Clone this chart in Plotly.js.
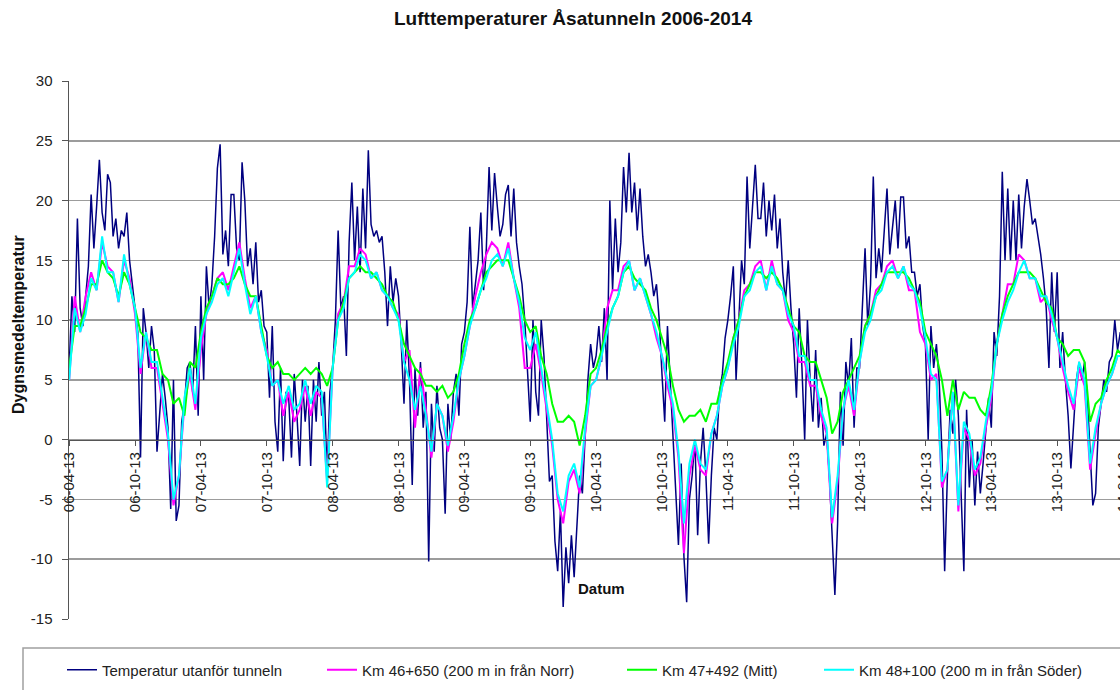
<!DOCTYPE html>
<html>
<head>
<meta charset="utf-8">
<script src="https://cdn.plot.ly/plotly-3.0.1.min.js"></script>
<style>
html, body { margin: 0; padding: 0; overflow: hidden; background: #fff; }
#chart { width: 1180px; height: 690px; }
</style>
</head>
<body>
<div id="chart"></div>
<script>
// ---------- DATA ----------
const seriesNames = [
  "Temperatur utanför tunneln",
  "Km 46+650 (200 m in från Norr)",
  "Km 47+492 (Mitt)",
  "Km 48+100 (200 m in från Söder)"
];
const firstDate = "2006-04-13";
// outdoor temperature: 4 readings per month, starting 2006-04-13
const outdoor = [
  6,12,9,18.5, 11,9.5,12,14.5, 20.5,16,19.5,23.4, 19,17.5,22.2,21.5, 17,18.5,16,17.5, 17,19,15,13,
  11.5,9,-1.5,11, 9,6,9.5,7.5, -1,2.5,5.5,3.5, 1,-5.8,5,-6.8, -5.5,1.5,3,6, 6.5,4,9.5,2,
  12,5,14.5,11, 13,17,22.7,24.7, 15.5,17.5,14.5,20.5, 20.5,16,15,23.2, 20,14.5,16,13, 16.5,11.5,12.5,9.5,
  9,3.5,9.5,1.5, -1,6,-1.8,4, 3.5,-1.5,5.5,2, -2.2,5,1.5,4.5, -2.2,5,1.5,6.5, 2,4,-3,4,
  6,10,17.5,11, 12,7,16.5,21.5, 15,19.5,14,21, 16,24.2,18,17, 17.5,16.5,17,14, 9.5,14.5,11.5,13.5,
  12,8,3,10, 5,-3.8,6,2, 6.5,1,4,-10.2, 3,-1,4.5,1, 0,-6.2,3,0, 4,5.5,2,8,
  9,11.5,17.8,11, 13,15,19,12.5, 16,22.8,17.5,22.3, 19.5,17,18,20.5, 21.3,17,21,16.5, 14.5,13,10,6,
  1.5,10,4,2, 10,7,2,-3.5, -3,-8.5,-11,-6, -14,-9,-12,-8, -11.5,-7,-3,-4.5, 0,5,8,6,
  7,9.5,6.5,11, 5,20,12.5,18.5, 14,16.5,22.8,19, 24,19,21.5,17.5, 21,17,14.5,15.5, 14,12,13,10,
  5.5,1.5,9.5,5, 1,-4.5,-8.8,-2, -9.8,-13.6,-5,-3, 0,-8,-2,1, -3,-8.7,-3,1, 0,4,5.5,8.5,
  10,12,14.5,5, 10,15,13,22, 16,19.5,23,18.5, 18.5,21.5,17,20, 17.5,20.5,16,18.5, 14,11.5,15,11,
  8,3.5,11,6, 0,10,5,1.5, 7.5,1,3.5,-0.5, 0.5,-3,-8.5,-13, -7,4,-0.5,6.5, 4.5,8.5,1,6,
  6,10.5,16,9.5, 13,22,13.5,16, 14,17.5,21,15.5, 18,20,16,20.3, 20.3,16,17,14, 14,12,13,9.5,
  8,0,9.5,6, 8,5,-1,-11, -3,2.5,0.5,5, 2,-5,-11,2.5, -4,0,-5.5,-1, -4.5,-2,0.5,3.5,
  1,9,7,12, 22.4,15,21,15, 20,15,20.5,16, 19.5,21.8,20,18, 18.5,17,15.5,13.5, 11,6,14,9,
  14,6,9,5, 2,-2.4,1,5, 6.5,5,6.5,3.5, -1,-5.5,-4.5,1, 3,5,4,6.5, 7,10,7.5,9,
  8,10
];
// tunnel sensors: 2 readings per month, starting 2006-04-13
const norr = [
  5,12, 9,12, 14,12.5, 16.5,14.5, 14,11.5, 15,13.5, 10.5,5.5, 9,6, 6,3, 0,-5.5, -3,3, 5.5,2.5,
  7.5,10.5, 12,13.5, 14,12.5, 14.5,16.5, 13.5,11, 12,9, 7.5,4.5, 5,2, 4,1.5, 2.5,4.5, 2,4, 3.5,-3.5,
  6,10.5, 11.5,14.5, 14.5,16, 15.5,13.5, 14,12.5, 12,11, 10.5,6.5, 7.5,1, 6,2.5, -1.5,3, 2,-1, 1.5,5,
  7,9.5, 12,14, 15.5,16.5, 16,14.5, 16.5,13.5, 11,6, 6,8, 5.5,2.5, -0.5,-5, -7,-3.5, -2.5,-4.5, 0.5,4.5,
  5,7, 11,12.5, 12.5,14.5, 15,12.5, 13.5,12, 10.5,8.5, 7,4.5, 2.5,-1.5, -9.5,-3, -0.5,-2.5, -3,0.5, 2,4.5,
  6,8.5, 10,12.5, 13,14.5, 15,12.5, 15,13, 12.5,10, 9,6.5, 6.5,4.5, 4.5,2, 0.5,-7, -3.5,2.5, 4.5,2,
  6.5,9.5, 10.5,12.5, 13,14.5, 15,13.5, 14.5,12.5, 12.5,9, 8,5, 5.5,-4, -2.5,4, -6,1, 0,-3, -2,1,
  3.5,8, 10.5,13, 13,15.5, 15,13.5, 13.5,11.5, 12,10, 8.5,6, 4,2.5, 6,4.5, -2.5,0.5, 3,4.5, 5.5,7,
  7,8
];
const mitt = [
  6,9.5, 9.5,11, 13,13, 15,14, 13.5,12, 14,13, 11,9, 8.5,7.5, 7.5,5.5, 5,3, 3.5,2, 6.5,6,
  9,11, 12,13.5, 13,13, 13.5,14.5, 13,12, 12,9.5, 7,6, 6.5,5.5, 5.5,5, 5.5,6, 5.5,6, 5.5,4.5,
  6,10, 11.5,13.5, 14,14.5, 14,14, 13.5,13, 12,11.5, 10,8, 7,6, 5.5,4.5, 4.5,4, 4.5,3.5, 4,5.5,
  8,10, 11,12.5, 14,14.5, 15,15, 15,13.5, 12,10, 9,9.5, 7,5.5, 3,1.5, 1.5,2, 1.5,-0.5, 2,5.5,
  6,7.5, 9.5,11, 12,14, 14.5,13.5, 13,12.5, 11,10, 8.5,7, 4.5,2.5, 1.5,2, 2,2.5, 1.5,3, 3,5,
  6.5,8.5, 10,12, 13,14, 14,13.5, 14,13.5, 12.5,11, 9.5,9, 7,6.5, 6.5,5, 3.5,0.5, 1.5,4, 5,6,
  7,9.5, 10.5,12, 13,14, 14,14, 14,13.5, 12.5,11.5, 9,8, 7,5, 2,5, 2.5,4, 3.5,3.5, 2.5,2,
  4.5,8, 10.5,12, 13,14, 14,14, 13.5,12.5, 11.5,11, 8.5,8, 7,7.5, 7.5,6.5, 1.5,3, 3.5,5, 6,7.5,
  7,8
];
const soder = [
  5,11, 9,10.5, 13.5,12.5, 17,14, 14,11.5, 15.5,13, 11,6, 9,6.5, 6.5,3.5, 0.5,-5, -3,3.5, 6,3,
  8.5,10.5, 11.5,13, 13.5,12, 14,16, 13,10.5, 12,9, 7,4.5, 5,3, 4.5,2.5, 3,5, 3,4.5, 4,-4,
  6,10, 11,13.5, 14,15.5, 15,13.5, 14,12.5, 12,11, 10,6.5, 5,2.5, 4.5,2, -1,3, 2,-0.5, 2,5,
  7,9.5, 11,12.5, 13.5,15, 15.5,14.5, 16,13.5, 11.5,8.5, 7.5,9, 6,3, 0,-4.5, -6,-3, -2,-4, 1,4.5,
  5,7, 9,11, 12,14, 15,12.5, 13.5,12, 10.5,9, 7,5, 3,-1, -7,-2, 0,-2, -2.5,0.5, 2,4.5,
  6,8, 9.5,12, 12.5,14, 14.5,12.5, 14.5,13, 12.5,10.5, 9.5,7, 7,5, 5,2.5, 1,-6.5, -3,2.5, 5,2.5,
  6.5,9, 10,12, 12.5,14, 14.5,13.5, 14.5,13, 12.5,11, 8.5,5.5, 5,-3.5, -2.5,4, -5.5,1.5, 0.5,-2.5, -1.5,1.5,
  4,8, 10,11.5, 12.5,14, 15,13.5, 13.5,12, 12,10.5, 8.5,6.5, 4.5,3, 6.5,5, -2,1, 3,4.5, 5.5,7,
  7,8
];
const xTickDates = ["2006-04-13","2006-10-13","2007-04-13","2007-10-13","2008-04-13","2008-10-13",
  "2009-04-13","2009-10-13","2010-04-13","2010-10-13","2011-04-13","2011-10-13","2012-04-13",
  "2012-10-13","2013-04-13","2013-10-13","2014-04-13"];
const xTickLabels = ["06-04-13","06-10-13","07-04-13","07-10-13","08-04-13","08-10-13",
  "09-04-13","09-10-13","10-04-13","10-10-13","11-04-13","11-10-13","12-04-13",
  "12-10-13","13-04-13","13-10-13","14-04-13"];
const yTickVals = [-15,-10,-5,0,5,10,15,20,25,30];
const yTickLabels = ["-15","-10","-5","0","5","10","15","20","25","30"];

// ---------- BUILD ----------
const DAY = 86400000;
const t0 = Date.parse(firstDate + "T00:00:00Z");
const yearDays = 365.25;
function sampleDates(n, perYear) {
  const out = [];
  for (let i = 0; i < n; i++) out.push(t0 + i * (yearDays / perYear) * DAY);
  return out;
}
const FONT = "Liberation Sans, Arial, sans-serif";
const colors = ["#000080", "#ff00ff", "#00ff00", "#00ffff"];
const widths = [1.5, 2, 2, 2];
const vals = [outdoor, norr, mitt, soder];
const perYear = [48, 24, 24, 24];
const legendIds = ["legend", "legend2", "legend3", "legend4"];

const traces = vals.map((v, i) => ({
  type: "scatter",
  mode: "lines",
  x: sampleDates(v.length, perYear[i]),
  y: v,
  name: seriesNames[i],
  legend: legendIds[i],
  line: { color: colors[i], width: widths[i] },
  hoverinfo: "skip"
}));

const L = 69, R = 20, T = 81, B = 71, W = 1180, H = 690;
const plotW = W - L - R, plotH = H - T - B;
const px2x = p => (p - L) / plotW;
const px2y = p => (H - B - p) / plotH;

const legendY = px2y(670);
function legendAt(pxLeft) {
  return {
    orientation: "h", x: px2x(pxLeft), xanchor: "left", y: legendY, yanchor: "middle",
    bgcolor: "rgba(0,0,0,0)", borderwidth: 0,
    font: { family: FONT, size: 15, color: "#222" }
  };
}

const layout = {
  width: W, height: H,
  margin: { l: L, r: R, t: T, b: B, pad: 0, autoexpand: false },
  paper_bgcolor: "#ffffff",
  plot_bgcolor: "#ffffff",
  font: { family: FONT, size: 15, color: "#222" },
  title: {
    text: "Lufttemperaturer Åsatunneln 2006-2014",
    x: 573 / W, xanchor: "center", y: 1 - 18 / H, yanchor: "middle",
    font: { family: FONT, size: 19, color: "#111", weight: "bold" }
  },
  xaxis: {
    type: "date",
    range: ["2006-04-12 12:00", "2014-07-24 12:00"],
    anchor: "free",
    position: 15 / 45,
    automargin: false,
    showgrid: false, zeroline: false,
    showline: true, linecolor: "#555", linewidth: 1.5,
    ticks: "outside", ticklen: 5, tickcolor: "#555", tickwidth: 1,
    tickmode: "array", tickvals: xTickDates, ticktext: xTickLabels,
    tickangle: -90,
    tickfont: { family: FONT, size: 15, color: "#222" }
  },
  yaxis: {
    range: [-15, 30],
    automargin: false,
    tickmode: "array", tickvals: yTickVals, ticktext: yTickLabels,
    showgrid: true, gridcolor: "#9c9c9c", gridwidth: 1.5,
    zeroline: false,
    showline: true, linecolor: "#555", linewidth: 1.5,
    ticks: "outside", ticklen: 6, tickcolor: "#555",
    ticklabelstandoff: 6,
    tickfont: { family: FONT, size: 15, color: "#222" }
  },
  legend: legendAt(62),
  legend2: legendAt(322),
  legend3: legendAt(622),
  legend4: legendAt(819),
  shapes: [{
    type: "rect", xref: "paper", yref: "paper",
    x0: px2x(23), x1: px2x(1200), y0: px2y(648), y1: px2y(720),
    line: { color: "#a0a0a0", width: 1.5 }, fillcolor: "rgba(0,0,0,0)", layer: "above"
  }],
  annotations: [
    {
      text: "Dygnsmedeltemperatur", textangle: -90,
      xref: "paper", yref: "paper", x: px2x(18), y: px2y(325),
      xanchor: "center", yanchor: "middle", showarrow: false,
      font: { family: FONT, size: 16, color: "#111", weight: "bold" }
    },
    {
      text: "Datum",
      xref: "paper", yref: "paper", x: px2x(601), y: px2y(588),
      xanchor: "center", yanchor: "middle", showarrow: false,
      font: { family: FONT, size: 15, color: "#111", weight: "bold" }
    }
  ],
  showlegend: true
};

Plotly.newPlot("chart", traces, layout, { displayModeBar: false, staticPlot: true });
</script>
</body>
</html>
